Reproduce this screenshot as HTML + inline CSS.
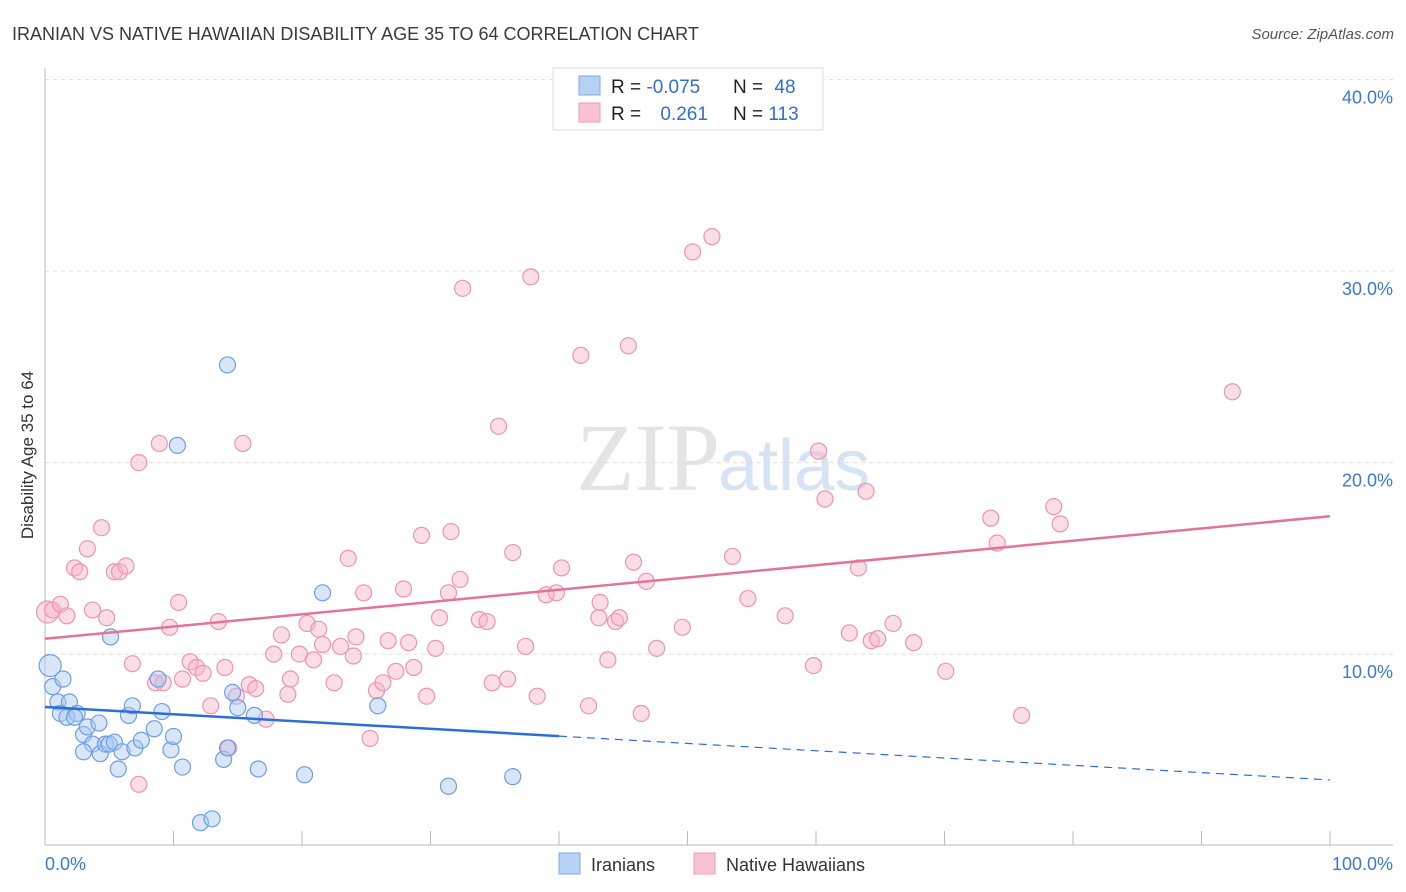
<!DOCTYPE html>
<html><head><meta charset="utf-8"><style>
body{margin:0;background:#fff;font-family:"Liberation Sans",sans-serif;}
svg{display:block}
</style></head><body>
<svg id="c" width="1406" height="892">
<text x="12" y="40" font-size="18" fill="#3a3a3a">IRANIAN VS NATIVE HAWAIIAN DISABILITY AGE 35 TO 64 CORRELATION CHART</text>
<text x="1394" y="39" font-size="15" font-style="italic" fill="#555" text-anchor="end">Source: ZipAtlas.com</text>
<text x="720" y="490" font-size="96" font-family="Liberation Serif,serif" fill="#e4e4e4" text-anchor="end">ZIP</text>
<text x="718" y="490" font-size="72" fill="#d6e3f3">atlas</text>
<text transform="translate(33,455) rotate(-90)" font-size="17" fill="#333" text-anchor="middle">Disability Age 35 to 64</text>
<g id="grid"></g><g id="marks"></g>
<g>
<rect x="553" y="68" width="270" height="62" fill="#fff" stroke="#ddd"/>
<rect x="579" y="76" width="21" height="19" fill="#b8d2f4" stroke="#7eaae6"/>
<rect x="579" y="103" width="21" height="19" fill="#f9c3d3" stroke="#f09ab6"/>
<text x="611" y="93" font-size="19" fill="#222">R = <tspan fill="#2f6fd0">-0.075</tspan></text>
<text x="733" y="93" font-size="19" fill="#222">N = <tspan fill="#2f6fd0" dx="6">48</tspan></text>
<text x="611" y="120" font-size="19" fill="#222">R = <tspan fill="#2f6fd0" dx="14">0.261</tspan></text>
<text x="733" y="120" font-size="19" fill="#222">N = <tspan fill="#2f6fd0">113</tspan></text>
</g>
<g>
<rect x="559" y="853" width="21" height="21" fill="#b8d2f4" stroke="#7eaae6"/>
<text x="591" y="871" font-size="18" fill="#333">Iranians</text>
<rect x="694" y="853" width="21" height="21" fill="#f9c3d3" stroke="#f09ab6"/>
<text x="726" y="871" font-size="18" fill="#333">Native Hawaiians</text>
</g>
</svg>
<script>
const yTicks=[10,20,30,40];
const xLabels=["0.0%","100.0%"];
const blueX=[.4,.6,1.4,1.0,1.9,1.2,1.7,2.5,2.3,3.0,3.3,4.2,3.7,3.0,4.3,4.7,5.0,5.4,6.0,5.7,5.1,6.5,6.8,7.0,7.5,8.5,8.8,9.1,9.8,10.0,10.7,10.3,12.1,13.0,13.9,14.2,14.2,14.6,15.0,16.3,16.6,20.2,21.6,25.9,31.4,36.4];
const blueY=[9.4,8.3,8.7,7.5,7.5,6.9,6.7,6.9,6.7,5.8,6.2,6.4,5.3,4.9,4.8,5.3,5.3,5.4,4.9,4.0,10.9,6.8,7.3,5.1,5.5,6.1,8.7,7.0,5.0,5.7,4.1,20.9,1.2,1.4,4.5,25.1,5.1,8.0,7.2,6.8,4.0,3.7,13.2,7.3,3.1,3.6];
const pinkX=[.2,.6,1.2,1.7,2.3,2.7,3.3,3.7,4.4,4.8,5.4,5.8,6.3,6.8,7.3,8.6,8.9,9.2,9.7,10.4,10.7,11.3,11.8,12.3,12.9,13.5,14.0,14.3,14.9,15.4,15.9,16.4,17.2,17.8,18.4,18.9,19.1,19.8,20.4,20.9,21.3,21.6,22.5,23.0,23.6,24.0,24.2,24.8,25.3,25.8,26.3,26.7,27.3,27.9,28.3,28.7,29.3,29.7,30.4,30.7,31.4,31.6,32.3,32.5,33.8,34.4,34.8,35.3,36.0,36.4,37.4,37.8,38.3,39.0,39.8,40.2,41.7,42.3,43.1,43.2,43.8,44.4,44.7,45.4,45.8,46.4,46.8,47.6,49.6,50.4,51.9,53.5,54.7,57.6,59.8,60.2,60.7,62.6,63.3,63.9,64.3,64.8,66.0,67.6,70.1,73.6,74.1,76.0,78.5,79.0,92.4,7.3];
const pinkY=[12.2,12.3,12.6,12.0,14.5,14.3,15.5,12.3,16.6,11.9,14.3,14.3,14.6,9.5,20.0,8.5,21.0,8.5,11.4,12.7,8.7,9.6,9.3,9.0,7.3,11.7,9.3,5.1,7.8,21.0,8.4,8.2,6.6,10.0,11.0,7.9,8.7,10.0,11.6,9.7,11.3,10.5,8.5,10.4,15.0,9.9,10.9,13.2,5.6,8.1,8.5,10.7,9.1,13.4,10.6,9.3,16.2,7.8,10.3,11.9,13.2,16.4,13.9,29.1,11.8,11.7,8.5,21.9,8.7,15.3,10.4,29.7,7.8,13.1,13.2,14.5,25.6,7.3,11.9,12.7,9.7,11.7,11.9,26.1,14.8,6.9,13.8,10.3,11.4,31.0,31.8,15.1,12.9,12.0,9.4,20.6,18.1,11.1,14.5,18.5,10.7,10.8,11.6,10.6,9.1,17.1,15.8,6.8,17.7,16.8,23.7,3.2];
const blueTrend=[7.24,3.43];
const pinkTrend=[10.8,17.2];
const blueSolidEnd=40;
const NS="http://www.w3.org/2000/svg";
const X=v=>45+v*12.85, Y=v=>845.6-v*19.15;
function mk(t,a,p){const e=document.createElementNS(NS,t);for(const k in a)e.setAttribute(k,a[k]);p.appendChild(e);return e;}
const g=document.getElementById('grid'),m=document.getElementById('marks');
yTicks.forEach(t=>{
 const l=mk('line',{x1:45,x2:1393,y1:Y(t),y2:Y(t),stroke:'#ddd','stroke-dasharray':'4,4'},g);
 
 
 const tx=mk('text',{x:1393,y:Y(t)+24,'font-size':18,fill:'#3a78d4','text-anchor':'end'},g);tx.textContent=t.toFixed(1)+'%';
 
 
});
const ax=mk('line',{x1:45,x2:1393,y1:845,y2:845,stroke:'#bbb'},g);


const ay=mk('line',{x1:45,x2:45,y1:68,y2:845,stroke:'#bbb'},g);


for(let i=0;i<=10;i++){const t=mk('line',{x1:X(i*10),x2:X(i*10),y1:831,y2:845,stroke:'#bbb'},g);
 
 }
xLabels.forEach((s,i)=>{const t=mk('text',{x:i?1393:45,y:870,'font-size':18,fill:'#3a78d4','text-anchor':i?'end':'start'},g);t.textContent=s;
 
 });
function pts(xs,ys,f,s,name){xs.forEach((x,i)=>{const r=(i==0)?11:8;const c=mk('circle',{cx:X(x),cy:Y(ys[i]),r:r,fill:f,'fill-opacity':0.45,stroke:s,'stroke-width':1.2},m);
 
 });}
pts(pinkX,pinkY,'#f6b3c8','#ec94b2','hawaiian-point');
pts(blueX,blueY,'#a9c8f0','#6d9fe0','iranian-point');
const bAt=v=>blueTrend[0]+(blueTrend[1]-blueTrend[0])*v/100;
const b1=mk('line',{x1:X(0),y1:Y(bAt(0)),x2:X(blueSolidEnd),y2:Y(bAt(blueSolidEnd)),stroke:'#2b6fd6','stroke-width':2.5},m);


const b2=mk('line',{x1:X(blueSolidEnd),y1:Y(bAt(blueSolidEnd)),x2:X(100),y2:Y(bAt(100)),stroke:'#2b6fd6','stroke-width':1.2,'stroke-dasharray':'8,6'},m);


const p1=mk('line',{x1:X(0),y1:Y(pinkTrend[0]),x2:X(100),y2:Y(pinkTrend[1]),stroke:'#e4739c','stroke-width':2.5},m);


</script>
</body></html>
